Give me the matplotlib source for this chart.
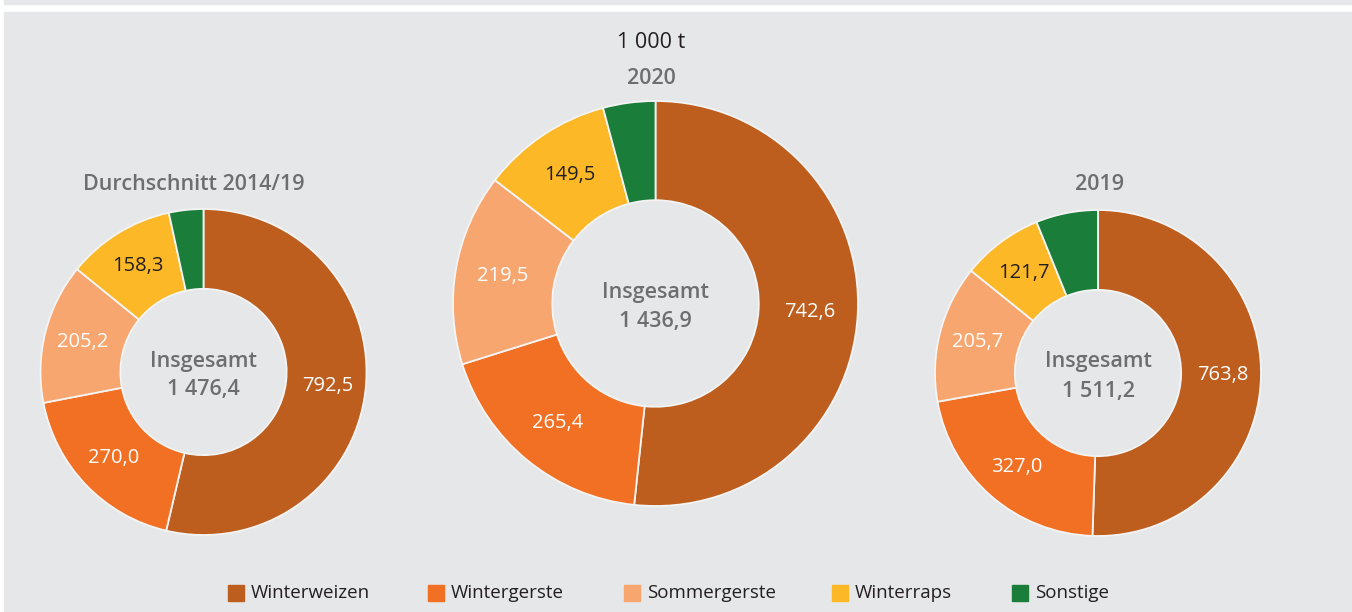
import matplotlib.pyplot as plt
import numpy as np
from matplotlib.patches import Rectangle

W, H = 1352, 612

categories = ["Winterweizen", "Wintergerste", "Sommergerste", "Winterraps", "Sonstige"]
colors = ["#bd5e1f", "#f27023", "#f7a670", "#fdb827", "#1b7d3a"]
label_colors = ["white", "white", "white", "#231f20", None]

titles = ["Durchschnitt 2014/19", "2020", "2019"]
avg_2014_19 = [792.5, 270.0, 205.2, 158.3, 50.4]
year_2020 = [742.6, 265.4, 219.5, 149.5, 59.9]
year_2019 = [763.8, 327.0, 205.7, 121.7, 93.0]
unit = "1 000 t"

# pie layout in pixel coordinates (image y measured from top)
centers = [(203.5, 372), (655.5, 303.5), (1098, 373)]
radii = [163, 202.5, 163]
title_y = [185, 78, 184]
title_x = [194, 651, 1100]

GRAY = "#6d6e71"
BG = "#e6e7e8"


def fmt(v):
    s = f"{v:,.1f}".replace(",", " ").replace(".", ",")
    return s


plt.rcParams["font.family"] = ["Open Sans", "DejaVu Sans"]

fig = plt.figure(figsize=(W / 100, H / 100), dpi=100)
fig.patch.set_facecolor("white")
ax = fig.add_axes([0, 0, 1, 1])

for (cx, cy), r, vals, title, tx, ty in zip(centers, radii,
                                             [avg_2014_19, year_2020, year_2019],
                                             titles, title_x, title_y):
    y = H - cy
    wedges, _ = ax.pie(vals, colors=colors, startangle=90, counterclock=False,
                       center=(cx, y), radius=r,
                       wedgeprops=dict(width=r * 0.49, edgecolor="#f4f4f4", linewidth=1.3))
    for w, v, lc in zip(wedges, vals, label_colors):
        if lc is None:
            continue
        ang = np.deg2rad((w.theta1 + w.theta2) / 2)
        rr = r * 0.765
        ax.text(cx + rr * np.cos(ang), y + rr * np.sin(ang), fmt(v),
                ha="center", va="center", color=lc, fontsize=14.5)
    ax.text(cx, y + 11, "Insgesamt", ha="center", va="center", color=GRAY,
            fontsize=15.5, fontweight="semibold")
    ax.text(cx, y - 18, fmt(sum(vals)), ha="center", va="center", color=GRAY,
            fontsize=15.5, fontweight="semibold")
    ax.text(tx, H - ty, title, ha="center", va="center", color=GRAY,
            fontsize=15.5, fontweight="semibold")

ax.text(651, H - 43, unit, ha="center", va="center", color="#231f20", fontsize=15.5)

# background panels
ax.add_patch(Rectangle((4, 0), W - 4, H - 12, color=BG, zorder=-5))
ax.add_patch(Rectangle((4, H - 4), W - 4, 4, color=BG, zorder=-5))

# legend
leg_x = [228, 428, 624, 832, 1012]
for lx, cat, col in zip(leg_x, categories, colors):
    ax.add_patch(Rectangle((lx, H - 601), 16, 16, color=col))
    ax.text(lx + 23, H - 593, cat, ha="left", va="center", color="#231f20", fontsize=13.5)

ax.set_xlim(0, W)
ax.set_ylim(0, H)
ax.set_aspect("auto")
ax.axis("off")

fig.savefig("out.png", dpi=100, facecolor="white")
